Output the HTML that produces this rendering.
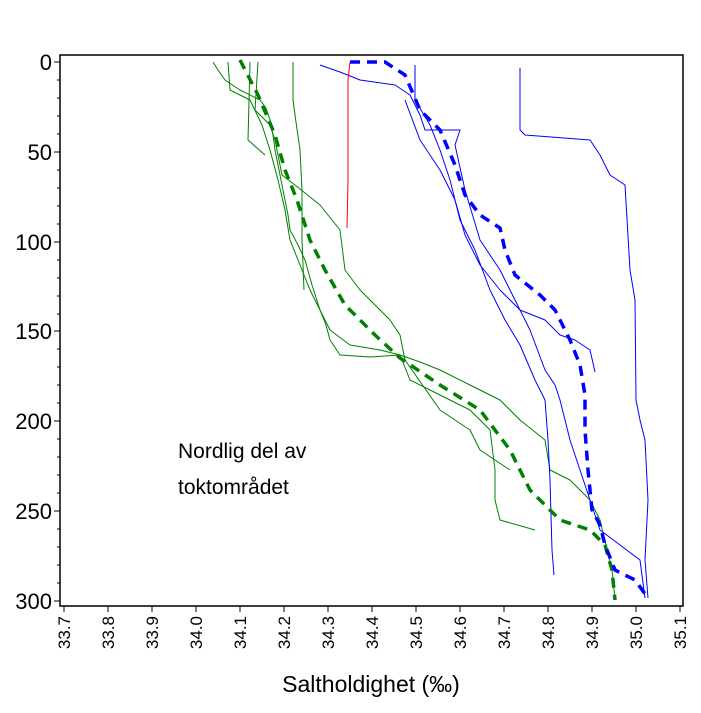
<!DOCTYPE html><html><head><style>body{margin:0;background:#fff}svg{display:block;font-family:"Liberation Sans",sans-serif}</style></head><body>
<svg width="701" height="713" viewBox="0 0 701 713">
<rect x="60" y="55" width="623" height="551" fill="none" stroke="#000" stroke-width="1.5"/>
<g stroke="#000" stroke-width="1">
<path d="M60 62h-6M60 152h-6M60 242h-6M60 331h-6M60 421h-6M60 511h-6M60 601h-6"/>
<path d="M60 80h-3M60 98h-3M60 116h-3M60 134h-3M60 170h-3M60 188h-3M60 206h-3M60 224h-3M60 260h-3M60 278h-3M60 296h-3M60 314h-3M60 349h-3M60 367h-3M60 385h-3M60 403h-3M60 439h-3M60 457h-3M60 475h-3M60 493h-3M60 529h-3M60 547h-3M60 565h-3M60 583h-3"/>
<path d="M64 606v6M108 606v6M152 606v6M196 606v6M240 606v6M284 606v6M328 606v6M372 606v6M416 606v6M460 606v6M504 606v6M548 606v6M592 606v6M636 606v6M680 606v6"/>
</g>
<g font-size="22" text-anchor="end">
<text x="52" y="70">0</text><text x="52" y="160">50</text><text x="52" y="250">100</text><text x="52" y="339">150</text><text x="52" y="429">200</text><text x="52" y="519">250</text><text x="52" y="609">300</text>
</g>
<g font-size="17" text-anchor="end">
<text transform="translate(70,616) rotate(-90)">33.7</text><text transform="translate(114,616) rotate(-90)">33.8</text><text transform="translate(158,616) rotate(-90)">33.9</text><text transform="translate(202,616) rotate(-90)">34.0</text><text transform="translate(246,616) rotate(-90)">34.1</text><text transform="translate(290,616) rotate(-90)">34.2</text><text transform="translate(334,616) rotate(-90)">34.3</text><text transform="translate(378,616) rotate(-90)">34.4</text><text transform="translate(422,616) rotate(-90)">34.5</text><text transform="translate(466,616) rotate(-90)">34.6</text><text transform="translate(510,616) rotate(-90)">34.7</text><text transform="translate(554,616) rotate(-90)">34.8</text><text transform="translate(598,616) rotate(-90)">34.9</text><text transform="translate(642,616) rotate(-90)">35.0</text><text transform="translate(686,616) rotate(-90)">35.1</text>
</g>
<text x="371" y="692" font-size="23" text-anchor="middle">Saltholdighet (‰)</text>
<text x="178" y="458" font-size="21">Nordlig del av</text>
<text x="178" y="494" font-size="21">toktområdet</text>
<g fill="none" stroke-width="1" stroke-linejoin="round">
<g stroke="#008000">
<polyline points="213,62 218,70 225,80 240,90 260,100 266,108 270,120 273,135 275,150 280,175 285,200 288,215 290,230 298,245 305,260 312,285 320,310 326,325 330,340 340,355 370,357 400,355 420,362 440,370 470,385 500,400 520,420 545,440 550,470 570,480 590,500 600,520 606,545 612,570 615,600"/>
<polyline points="228,62 230,90 250,100 262,125 270,150 278,180 285,210 290,240 300,265 310,290 320,310 330,330 350,345 380,350 400,355 410,380 440,395 470,410 490,430 495,470 495,500 500,520 535,530"/>
<polyline points="258,62 255,110 270,125 275,140 282,175 295,185 320,205 340,230 345,270 360,290 390,320 400,335 405,360 440,410 470,430 480,450 510,470"/>
<polyline points="293,62 293,100 295,115 300,150 302,190 302,240 304,290"/>
<polyline points="250,62 248,140 265,155"/>
</g>
<g stroke="#00f">
<polyline points="520,68 520,130 525,135 590,140 600,155 610,175 625,185 630,270 635,300 636,400 640,420 645,440 648,500 645,560 648,598"/>
<polyline points="320,65 340,72 360,80 395,85 410,95 420,115 425,130 460,130 455,145 465,190 480,240 500,270 515,300 530,330 545,370 555,385 560,400 570,440 580,470 590,500 600,530 620,545 640,560 645,598"/>
<polyline points="415,65 415,100 430,125 440,150 450,180 460,220 475,250 490,290 505,320 520,345 535,380 545,400 548,440 550,480 552,550 554,575"/>
<polyline points="405,100 420,140 440,170 455,200 465,235 480,265 500,290 520,310 545,320 560,335 575,340 590,350 595,372"/>
</g>
<polyline stroke="#f00" points="350,62 348,80 348,180 347,228"/>
<polyline stroke="#008000" stroke-width="3.5" stroke-dasharray="10,7" points="240,60 258,95 275,135 285,170 297,200 310,240 325,270 345,305 375,335 400,358 440,385 480,410 510,450 530,490 560,520 590,530 605,545 612,570 615,600"/>
<polyline stroke="#00f" stroke-width="3.5" stroke-dasharray="10,7" points="350,62 385,62 405,75 420,110 440,130 455,165 465,195 480,215 500,228 505,250 515,275 540,295 555,310 570,340 580,365 585,395 585,430 588,470 592,510 600,525 605,545 615,570 635,580 648,598"/>
</g>
</svg></body></html>
